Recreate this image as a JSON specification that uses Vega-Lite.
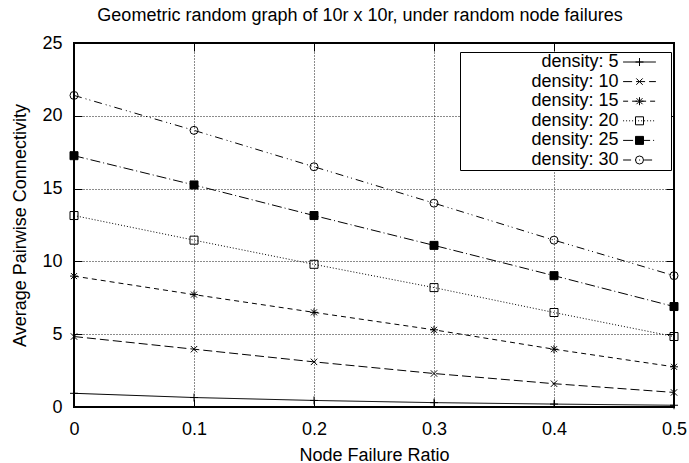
{
  "$schema": "https://vega.github.io/schema/vega-lite/v6.json",
  "width": 600,
  "height": 364,
  "autosize": {"type": "none"},
  "padding": {"left": 74, "top": 43, "right": 15, "bottom": 56},
  "background": "white",
  "title": {
    "text": "Geometric random graph of 10r x 10r, under random node failures",
    "font": "Liberation Sans", "fontSize": 18, "fontWeight": "normal", "color": "black",
    "anchor": "middle", "frame": "group", "dx": -14, "offset": 9
  },
  "config": {
    "view": {"stroke": "black", "strokeWidth": 2},
    "axis": {
      "labelFont": "Liberation Sans", "labelFontSize": 18, "labelColor": "black",
      "titleFont": "Liberation Sans", "titleFontSize": 18, "titleFontWeight": "normal", "titleColor": "black",
      "domain": false, "tickColor": "black", "tickWidth": 1, "tickSize": -8,
      "gridColor": "black", "gridDash": [1, 2], "gridWidth": 1, "gridOpacity": 0.9
    },
    "legend": {
      "labelFont": "Liberation Sans", "labelFontSize": 18, "labelColor": "black"
    }
  },
  "data": {
    "values": [
      {"x": 0.0, "y": 0.94, "density": 5, "label": "density: 5"},
      {"x": 0.1, "y": 0.65, "density": 5, "label": "density: 5"},
      {"x": 0.2, "y": 0.45, "density": 5, "label": "density: 5"},
      {"x": 0.3, "y": 0.30, "density": 5, "label": "density: 5"},
      {"x": 0.4, "y": 0.20, "density": 5, "label": "density: 5"},
      {"x": 0.5, "y": 0.12, "density": 5, "label": "density: 5"},
      {"x": 0.0, "y": 4.84, "density": 10, "label": "density: 10"},
      {"x": 0.1, "y": 3.97, "density": 10, "label": "density: 10"},
      {"x": 0.2, "y": 3.10, "density": 10, "label": "density: 10"},
      {"x": 0.3, "y": 2.30, "density": 10, "label": "density: 10"},
      {"x": 0.4, "y": 1.60, "density": 10, "label": "density: 10"},
      {"x": 0.5, "y": 1.00, "density": 10, "label": "density: 10"},
      {"x": 0.0, "y": 8.99, "density": 15, "label": "density: 15"},
      {"x": 0.1, "y": 7.72, "density": 15, "label": "density: 15"},
      {"x": 0.2, "y": 6.50, "density": 15, "label": "density: 15"},
      {"x": 0.3, "y": 5.30, "density": 15, "label": "density: 15"},
      {"x": 0.4, "y": 3.97, "density": 15, "label": "density: 15"},
      {"x": 0.5, "y": 2.76, "density": 15, "label": "density: 15"},
      {"x": 0.0, "y": 13.15, "density": 20, "label": "density: 20"},
      {"x": 0.1, "y": 11.46, "density": 20, "label": "density: 20"},
      {"x": 0.2, "y": 9.80, "density": 20, "label": "density: 20"},
      {"x": 0.3, "y": 8.20, "density": 20, "label": "density: 20"},
      {"x": 0.4, "y": 6.49, "density": 20, "label": "density: 20"},
      {"x": 0.5, "y": 4.84, "density": 20, "label": "density: 20"},
      {"x": 0.0, "y": 17.26, "density": 25, "label": "density: 25"},
      {"x": 0.1, "y": 15.25, "density": 25, "label": "density: 25"},
      {"x": 0.2, "y": 13.15, "density": 25, "label": "density: 25"},
      {"x": 0.3, "y": 11.10, "density": 25, "label": "density: 25"},
      {"x": 0.4, "y": 9.02, "density": 25, "label": "density: 25"},
      {"x": 0.5, "y": 6.90, "density": 25, "label": "density: 25"},
      {"x": 0.0, "y": 21.40, "density": 30, "label": "density: 30"},
      {"x": 0.1, "y": 19.00, "density": 30, "label": "density: 30"},
      {"x": 0.2, "y": 16.50, "density": 30, "label": "density: 30"},
      {"x": 0.3, "y": 14.00, "density": 30, "label": "density: 30"},
      {"x": 0.4, "y": 11.46, "density": 30, "label": "density: 30"},
      {"x": 0.5, "y": 9.02, "density": 30, "label": "density: 30"}
    ]
  },
  "resolve": {"axis": {"x": "independent", "y": "independent"}},
  "layer": [
    {
      "mark": {"type": "line", "color": "black", "strokeWidth": 1},
      "encoding": {
        "x": {"field": "x", "type": "quantitative",
              "scale": {"domain": [0, 0.5], "nice": false, "zero": false},
              "axis": {"orient": "bottom", "title": "Node Failure Ratio", "values": [0, 0.1, 0.2, 0.3, 0.4, 0.5], "format": "~g",
                       "grid": true, "labelPadding": 21, "titlePadding": 8, "labelFlush": false}},
        "y": {"field": "y", "type": "quantitative",
              "scale": {"domain": [0, 25], "nice": false},
              "axis": {"orient": "left", "title": "Average Pairwise Connectivity", "values": [0, 5, 10, 15, 20, 25],
                       "grid": true, "labelPadding": 20, "titlePadding": 12, "labelFlush": false}},
        "detail": {"field": "density", "type": "nominal"},
        "strokeDash": {"field": "label", "type": "nominal",
          "scale": {"domain": ["density: 5", "density: 10", "density: 15", "density: 20", "density: 25", "density: 30"],
                    "range": [[1, 0], [9, 4], [5, 4], [1, 2], [10, 3, 1, 3], [8, 4, 1, 3, 1, 4]]},
          "legend": {"orient": "none", "legendX": 386, "legendY": 9, "title": null, "direction": "vertical",
                     "symbolType": "M-4.1,0H4.1M7.1,0", "symbolSize": 64, "symbolStrokeColor": "black", "symbolStrokeWidth": 1,
                     "labelAlign": "right", "labelOffset": -30, "symbolOffset": 169.5, "rowPadding": 1.6,
                     "padding": 1, "fillColor": "white", "strokeColor": "black", "zindex": 1}}
      }
    },
    {
      "mark": {"type": "point", "filled": true, "strokeWidth": 1, "opacity": 1, "size": 64},
      "encoding": {
        "x": {"field": "x", "type": "quantitative",
              "axis": {"orient": "top", "title": null, "labels": false, "values": [0, 0.1, 0.2, 0.3, 0.4, 0.5], "grid": false}},
        "y": {"field": "y", "type": "quantitative",
              "axis": {"orient": "right", "title": null, "labels": false, "values": [0, 5, 10, 15, 20, 25], "grid": false}},
        "shape": {"field": "density", "type": "nominal",
          "scale": {"domain": [5, 10, 15, 20, 25, 30],
                    "range": ["M-1,0H1M0,-1V1", "M-0.8,-0.8L0.8,0.8M-0.8,0.8L0.8,-0.8", "M-1,0H1M0,-1V1M-0.75,-0.75L0.75,0.75M-0.75,0.75L0.75,-0.75", "square", "square", "circle"]},
          "legend": {"orient": "none", "legendX": 386, "legendY": 9, "title": null, "direction": "vertical",
                     "labelOpacity": 0, "symbolOffset": 169.5, "rowPadding": 1.6, "padding": 1, "symbolSize": 64,
                     "symbolStrokeWidth": 1, "zindex": 2}},
        "fill": {"field": "density", "type": "nominal",
          "scale": {"domain": [5, 10, 15, 20, 25, 30],
                    "range": ["transparent", "transparent", "transparent", "transparent", "black", "transparent"]},
          "legend": {"orient": "none", "legendX": 386, "legendY": 9, "title": null, "direction": "vertical",
                     "labelOpacity": 0, "symbolOffset": 169.5, "rowPadding": 1.6, "padding": 1, "symbolSize": 64,
                     "symbolStrokeWidth": 1, "zindex": 2}},
        "stroke": {"field": "density", "type": "nominal",
          "scale": {"domain": [5, 10, 15, 20, 25, 30],
                    "range": ["black", "black", "black", "black", "black", "black"]},
          "legend": {"orient": "none", "legendX": 386, "legendY": 9, "title": null, "direction": "vertical",
                     "labelOpacity": 0, "symbolOffset": 169.5, "rowPadding": 1.6, "padding": 1, "symbolSize": 64,
                     "symbolStrokeWidth": 1, "zindex": 2}}
      }
    }
  ]
}
